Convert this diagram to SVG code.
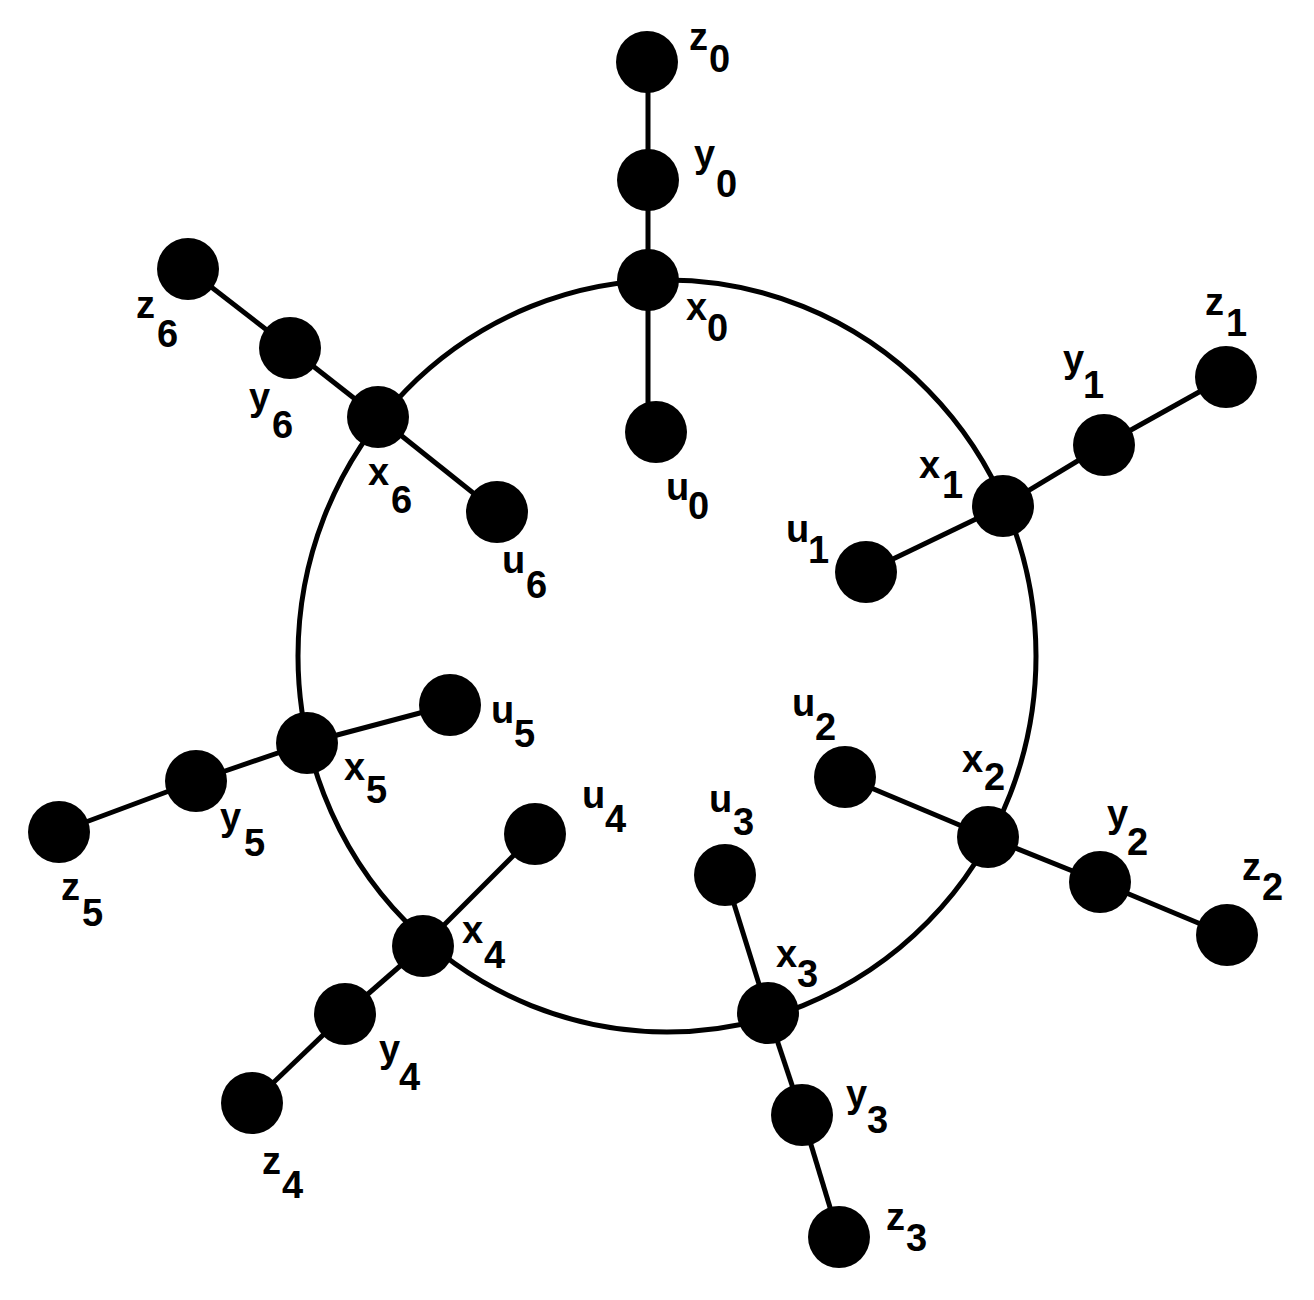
<svg xmlns="http://www.w3.org/2000/svg" width="1314" height="1300" viewBox="0 0 1314 1300">
<style>
.ring{fill:none;stroke:#000;stroke-width:5}
.e{stroke:#000;stroke-width:5;fill:none}
.n{fill:#000}
.l{font-family:"Liberation Sans",Arial,sans-serif;font-size:38px;font-weight:bold;fill:#000}
</style>
<rect width="1314" height="1300" fill="#fff"/>
<g id="connectors">
<ellipse class="ring" cx="667" cy="656" rx="369" ry="376"/>
<line class="e" x1="648" y1="62" x2="648" y2="180"/>
<line class="e" x1="648" y1="180" x2="648" y2="280"/>
<line class="e" x1="648" y1="280" x2="648" y2="420"/>
<line class="e" x1="1226" y1="377" x2="1104" y2="445"/>
<line class="e" x1="1104" y1="445" x2="1003" y2="506"/>
<line class="e" x1="1003" y1="506" x2="866" y2="572"/>
<line class="e" x1="1227" y1="935" x2="1100" y2="882"/>
<line class="e" x1="1100" y1="882" x2="988" y2="837"/>
<line class="e" x1="988" y1="837" x2="845" y2="777"/>
<line class="e" x1="839" y1="1237" x2="802" y2="1115"/>
<line class="e" x1="802" y1="1115" x2="768" y2="1013"/>
<line class="e" x1="768" y1="1013" x2="725" y2="875"/>
<line class="e" x1="252" y1="1103" x2="345" y2="1014"/>
<line class="e" x1="345" y1="1014" x2="423" y2="946"/>
<line class="e" x1="423" y1="946" x2="535" y2="834"/>
<line class="e" x1="59" y1="832" x2="196" y2="781"/>
<line class="e" x1="196" y1="781" x2="307" y2="743"/>
<line class="e" x1="307" y1="743" x2="450" y2="705"/>
<line class="e" x1="188" y1="269" x2="290" y2="348"/>
<line class="e" x1="290" y1="348" x2="378" y2="417"/>
<line class="e" x1="378" y1="417" x2="497" y2="512"/>
</g>
<g id="z0"><circle class="n" cx="647" cy="62" r="31"/><text class="l" x="689" y="50">z<tspan x="709" y="72">0</tspan></text></g>
<g id="y0"><circle class="n" cx="648" cy="180" r="31"/><text class="l" x="694" y="167">y<tspan x="716" y="197">0</tspan></text></g>
<g id="x0"><circle class="n" cx="648" cy="280" r="31"/><text class="l" x="686" y="320">x<tspan x="707" y="341">0</tspan></text></g>
<g id="u0"><circle class="n" cx="656" cy="432" r="31"/><text class="l" x="666" y="500">u<tspan x="688" y="519">0</tspan></text></g>
<g id="z1"><circle class="n" cx="1226" cy="377" r="31"/><text class="l" x="1205" y="315">z<tspan x="1226" y="336">1</tspan></text></g>
<g id="y1"><circle class="n" cx="1104" cy="445" r="31"/><text class="l" x="1063" y="372">y<tspan x="1083" y="398">1</tspan></text></g>
<g id="x1"><circle class="n" cx="1003" cy="506" r="31"/><text class="l" x="919" y="478">x<tspan x="942" y="498">1</tspan></text></g>
<g id="u1"><circle class="n" cx="866" cy="572" r="31"/><text class="l" x="786" y="542">u<tspan x="808" y="563">1</tspan></text></g>
<g id="u2"><circle class="n" cx="845" cy="777" r="31"/><text class="l" x="792" y="716">u<tspan x="815" y="740">2</tspan></text></g>
<g id="x2"><circle class="n" cx="988" cy="837" r="31"/><text class="l" x="962" y="772">x<tspan x="984" y="790">2</tspan></text></g>
<g id="y2"><circle class="n" cx="1100" cy="882" r="31"/><text class="l" x="1107" y="827">y<tspan x="1127" y="855">2</tspan></text></g>
<g id="z2"><circle class="n" cx="1227" cy="935" r="31"/><text class="l" x="1242" y="880">z<tspan x="1262" y="900">2</tspan></text></g>
<g id="u3"><circle class="n" cx="725" cy="875" r="31"/><text class="l" x="709" y="812">u<tspan x="733" y="835">3</tspan></text></g>
<g id="x3"><circle class="n" cx="768" cy="1013" r="31"/><text class="l" x="776" y="967">x<tspan x="797" y="987">3</tspan></text></g>
<g id="y3"><circle class="n" cx="802" cy="1115" r="31"/><text class="l" x="846" y="1107">y<tspan x="867" y="1133">3</tspan></text></g>
<g id="z3"><circle class="n" cx="839" cy="1237" r="31"/><text class="l" x="886" y="1230">z<tspan x="906" y="1251">3</tspan></text></g>
<g id="u4"><circle class="n" cx="535" cy="834" r="31"/><text class="l" x="582" y="808">u<tspan x="605" y="832">4</tspan></text></g>
<g id="x4"><circle class="n" cx="423" cy="946" r="31"/><text class="l" x="462" y="943">x<tspan x="484" y="968">4</tspan></text></g>
<g id="y4"><circle class="n" cx="345" cy="1014" r="31"/><text class="l" x="379" y="1062">y<tspan x="399" y="1090">4</tspan></text></g>
<g id="z4"><circle class="n" cx="252" cy="1103" r="31"/><text class="l" x="262" y="1174">z<tspan x="282" y="1198">4</tspan></text></g>
<g id="u5"><circle class="n" cx="450" cy="705" r="31"/><text class="l" x="491" y="723">u<tspan x="514" y="747">5</tspan></text></g>
<g id="x5"><circle class="n" cx="307" cy="743" r="31"/><text class="l" x="344" y="780">x<tspan x="366" y="803">5</tspan></text></g>
<g id="y5"><circle class="n" cx="196" cy="781" r="31"/><text class="l" x="220" y="830">y<tspan x="244" y="856">5</tspan></text></g>
<g id="z5"><circle class="n" cx="59" cy="832" r="31"/><text class="l" x="61" y="900">z<tspan x="82" y="926">5</tspan></text></g>
<g id="z6"><circle class="n" cx="188" cy="269" r="31"/><text class="l" x="136" y="318">z<tspan x="157" y="347">6</tspan></text></g>
<g id="y6"><circle class="n" cx="290" cy="348" r="31"/><text class="l" x="249" y="410">y<tspan x="272" y="438">6</tspan></text></g>
<g id="x6"><circle class="n" cx="378" cy="417" r="31"/><text class="l" x="368" y="485">x<tspan x="391" y="513">6</tspan></text></g>
<g id="u6"><circle class="n" cx="497" cy="512" r="31"/><text class="l" x="502" y="573">u<tspan x="526" y="598">6</tspan></text></g>
</svg>
